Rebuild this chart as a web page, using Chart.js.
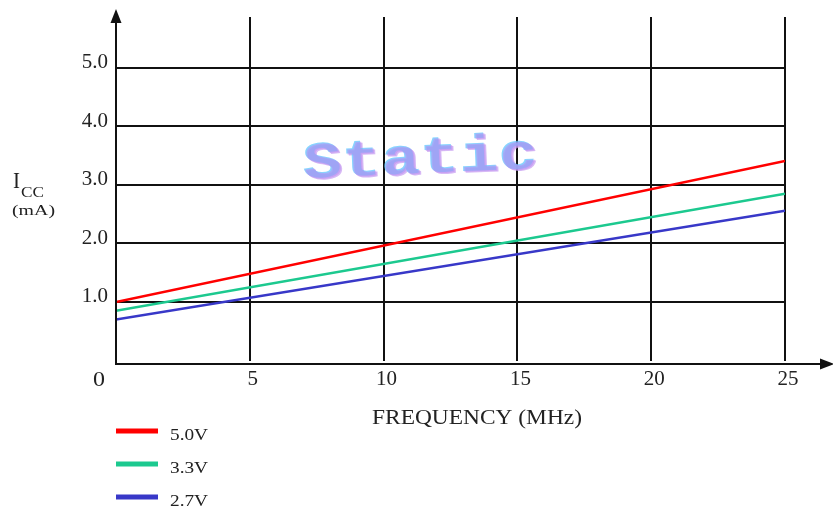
<!DOCTYPE html>
<html><head><meta charset="utf-8">
<script src="https://cdn.jsdelivr.net/npm/chart.js@4/dist/chart.umd.min.js"></script>
<style>html,body{margin:0;padding:0;background:#fff;overflow:hidden;}</style>
</head><body>
<canvas id="c" width="833" height="513"></canvas>
<script>
// ---- data ----
const frequencyMHz = [0, 25];
const icc50V = [1.00, 3.41];
const icc33V = [0.85, 2.85];
const icc27V = [0.70, 2.56];
const seriesLabels = ['5.0V', '3.3V', '2.7V'];
const seriesColors = ['#ff0000', '#1cc98f', '#3838c8'];
const xTicks = [0, 5, 10, 15, 20, 25];
const yTicks = [0, 1, 2, 3, 4, 5];
const xTitle = 'FREQUENCY (MHz)';
const watermark = 'Static';

const SERIF = '"Liberation Serif", "Times New Roman", serif';

function pts(ys) { return frequencyMHz.map((f, i) => ({ x: f, y: ys[i] })); }

function textFit(ctx, str, left, baseline, font, width, color) {
  ctx.save();
  ctx.font = font;
  ctx.fillStyle = color || '#222';
  ctx.textBaseline = 'alphabetic';
  ctx.textAlign = 'left';
  const w = ctx.measureText(str).width;
  const sx = width ? width / w : 1;
  ctx.translate(left, baseline);
  ctx.scale(sx, 1);
  ctx.fillText(str, 0, 0);
  ctx.restore();
}

const decor = {
  id: 'decor',
  afterDraw(chart) {
    const { ctx, scales: { x, y } } = chart;
    const x0 = x.getPixelForValue(0);
    const y0 = y.getPixelForValue(0) + 3.5;
    ctx.save();
    ctx.strokeStyle = '#111';
    ctx.fillStyle = '#111';
    ctx.lineWidth = 2;
    // y axis with arrow
    ctx.beginPath(); ctx.moveTo(x0, y0 + 1); ctx.lineTo(x0, 20); ctx.stroke();
    ctx.beginPath(); ctx.moveTo(x0, 9); ctx.lineTo(x0 - 5.5, 23); ctx.lineTo(x0 + 5.5, 23); ctx.closePath(); ctx.fill();
    // x axis with arrow
    ctx.beginPath(); ctx.moveTo(x0 - 1, y0); ctx.lineTo(824, y0); ctx.stroke();
    ctx.beginPath(); ctx.moveTo(834, y0); ctx.lineTo(820, y0 - 5.5); ctx.lineTo(820, y0 + 5.5); ctx.closePath(); ctx.fill();
    ctx.restore();

    // origin label
    textFit(ctx, '0', 93, 386, '21px ' + SERIF, 12);
    // y-axis title I_CC (mA)
    textFit(ctx, 'I', 13, 188, '23px ' + SERIF, 7);
    textFit(ctx, 'CC', 21, 197, '15px ' + SERIF, 23);
    textFit(ctx, '(mA)', 12, 215, '15px ' + SERIF, 43);
    // x-axis title
    textFit(ctx, xTitle, 372, 424, '21px ' + SERIF, 210);

    // legend from datasets
    chart.data.datasets.forEach((ds, i) => {
      const ly = 431 + i * 33;
      ctx.save();
      ctx.strokeStyle = ds.borderColor;
      ctx.lineWidth = 5;
      ctx.beginPath(); ctx.moveTo(116, ly); ctx.lineTo(158, ly); ctx.stroke();
      ctx.restore();
      textFit(ctx, ds.label, 170, ly + 9, '16px ' + SERIF, 38);
    });

    // watermark
    ctx.save();
    ctx.translate(303, 178);
    ctx.rotate(-2.5 * Math.PI / 180);
    ctx.font = 'bold 52px "Liberation Mono", "Courier New", monospace';
    const w = ctx.measureText(watermark).width;
    ctx.scale(235 / w, 1);
    ctx.globalAlpha = 0.75;
    ctx.fillStyle = '#c9a2f2';
    ctx.fillText(watermark, 2, 2);
    ctx.fillStyle = '#62c6ff';
    ctx.fillText(watermark, 0, 0);
    ctx.globalAlpha = 0.55;
    ctx.fillStyle = '#b98cf0';
    ctx.fillText(watermark, 1, 1);
    ctx.restore();
  }
};

const gridColor = c => (c.tick && c.tick.value === 0) ? 'rgba(0,0,0,0)' : '#111';

new Chart(document.getElementById('c'), {
  type: 'line',
  data: {
    datasets: [
      { label: seriesLabels[0], data: pts(icc50V), borderColor: seriesColors[0] },
      { label: seriesLabels[1], data: pts(icc33V), borderColor: seriesColors[1] },
      { label: seriesLabels[2], data: pts(icc27V), borderColor: seriesColors[2] }
    ]
  },
  options: {
    responsive: false,
    animation: false,
    devicePixelRatio: 1,
    layout: { padding: { left: 0, right: 48, top: 17, bottom: 0 } },
    elements: { point: { radius: 0 }, line: { borderWidth: 2.5, tension: 0 } },
    plugins: { legend: { display: false }, tooltip: { enabled: false } },
    scales: {
      x: {
        type: 'linear', min: 0, max: 25,
        afterBuildTicks: s => { s.ticks = xTicks.map(v => ({ value: v })); },
        afterFit: s => { s.height = 152.5; s.paddingLeft = 0; s.paddingRight = 0; },
        border: { display: false },
        grid: { drawTicks: false, color: gridColor, lineWidth: 2 },
        ticks: {
          padding: 6, labelOffset: 3, maxRotation: 0, autoSkip: false,
          font: { family: SERIF, size: 21 }, color: '#222',
          callback: v => v === 0 ? '' : String(v)
        }
      },
      y: {
        type: 'linear', min: 0, max: 5.87,
        afterBuildTicks: s => { s.ticks = yTicks.map(v => ({ value: v })); },
        afterFit: s => { s.width = 116; s.paddingTop = 0; s.paddingBottom = 0; },
        border: { display: false },
        grid: { drawTicks: false, color: gridColor, lineWidth: 2 },
        ticks: {
          padding: 8, labelOffset: -5, autoSkip: false,
          font: { family: SERIF, size: 21 }, color: '#222',
          callback: v => v === 0 ? '' : v.toFixed(1)
        }
      }
    }
  },
  plugins: [decor]
});
</script>
</body></html>
